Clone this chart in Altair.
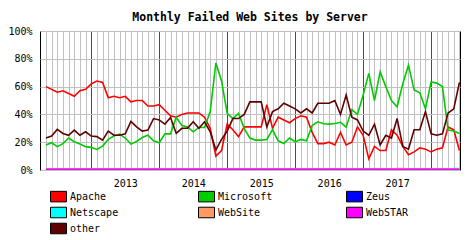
import altair as alt
import pandas as pd

title_text = "Monthly Failed Web Sites by Server"
series_names = ["Apache", "Microsoft", "Zeus", "Netscape", "WebSite", "WebSTAR", "other"]
series_colors = ["#ff0000", "#00cc00", "#0000ff", "#00ffff", "#ff9966", "#ff00ff", "#600000"]

# month index 0 = May 2012 ... 73 = Jun 2018
month_index = list(range(74))
january_index = [8, 20, 32, 44, 56, 68]
year_labels = ["2013", "2014", "2015", "2016", "2017"]
year_label_index = [14, 26, 38, 50, 62]
y_ticks = [0, 20, 40, 60, 80, 100]

apache = [60, 58, 56, 57, 55, 53, 57, 58, 62, 64,
          63, 52, 53, 52, 53, 49, 50, 50, 46, 46,
          47, 43, 39, 38, 40, 41, 41, 41, 38, 30,
          10, 14, 33, 29, 24, 31, 31, 31, 31, 47,
          30, 38, 36, 34, 37, 39, 38, 27, 19, 19,
          20, 18, 27, 18, 20, 31, 25, 8, 17, 14,
          14, 29, 25, 17, 11, 13, 16, 15, 13, 15,
          16, 31, 29, 14]
microsoft = [18, 19.6, 16.8, 19, 23, 20.3, 18.7, 16.8, 16.3, 14.8,
             17.2, 22, 24.4, 25.8, 23, 18.7, 20.5, 23.4, 25, 21,
             19.6, 26, 26, 38, 32, 31, 27.5, 30.6, 30.6, 42,
             77, 64, 40.7, 37, 40.7, 30, 23, 21.5, 21.5, 22,
             29, 21, 19, 23, 20.3, 22, 21, 32, 34.7, 33.3,
             33, 33.5, 34.3, 30.8, 43.5, 40, 54, 69.5, 50, 70.6,
             60, 50, 45.5, 62, 75.4, 57.5, 55.5, 44, 63.4, 62.5,
             60, 28.7, 28, 26.3]
zeus = [0.5, 0.5, 0.5, 0.5, 0.5, 0.5, 0.5, 0.5, 0.5, 0.5,
        0.5, 0.5, 0.5, 0.5, 0.5, 0.5, 0.5, 0.5, 0.5, 0.5,
        0.5, 0.5, 0.5, 0.5, 0.5, 0.5, 0.5, 0.5, 0.5, 0.5,
        0.5, 0.5, 0.5, 0.5, 0.5, 0.5, 0.5, 0.5, 0.5, 0.5,
        0.5, 0.5, 0.5, 0.5, 0.5, 0.5, 0.5, 0.5, 0.5, 0.5,
        0.5, 0.5, 0.5, 0.5, 0.5, 0.5, 0.5, 0.5, 0.5, 0.5,
        0.5, 0.5, 0.5, 0.5, 0.5, 0.5, 0.5, 0.5, 0.5, 0.5,
        0.5, 0.5, 0.5, 0.5]
netscape = [0.5, 0.5, 0.5, 0.5, 0.5, 0.5, 0.5, 0.5, 0.5, 0.5,
            0.5, 0.5, 0.5, 0.5, 0.5, 0.5, 0.5, 0.5, 0.5, 0.5,
            0.5, 0.5, 0.5, 0.5, 0.5, 0.5, 0.5, 0.5, 0.5, 0.5,
            0.5, 0.5, 0.5, 0.5, 0.5, 0.5, 0.5, 0.5, 0.5, 0.5,
            0.5, 0.5, 0.5, 0.5, 0.5, 0.5, 0.5, 0.5, 0.5, 0.5,
            0.5, 0.5, 0.5, 0.5, 0.5, 0.5, 0.5, 0.5, 0.5, 0.5,
            0.5, 0.5, 0.5, 0.5, 0.5, 0.5, 0.5, 0.5, 0.5, 0.5,
            0.5, 0.5, 1.0, 1.0]
website = [0.5, 0.5, 0.5, 0.5, 0.5, 0.5, 0.5, 0.5, 0.5, 0.5,
           0.5, 0.5, 0.5, 0.5, 0.5, 0.5, 0.5, 0.5, 0.5, 0.5,
           0.5, 0.5, 0.5, 0.5, 0.5, 0.5, 0.5, 0.5, 0.5, 0.5,
           0.5, 0.5, 0.5, 0.5, 0.5, 0.5, 0.5, 0.5, 0.5, 0.5,
           0.5, 0.5, 0.5, 0.5, 0.5, 0.5, 0.5, 0.5, 0.5, 0.5,
           0.5, 0.5, 0.5, 0.5, 0.5, 0.5, 0.5, 0.5, 0.5, 0.5,
           0.5, 0.5, 1.0, 1.0, 0.5, 0.5, 0.5, 0.5, 0.5, 0.5,
           0.5, 0.5, 0.5, 0.5]
webstar = [0.5, 0.5, 0.5, 0.5, 0.5, 0.5, 0.5, 0.5, 0.5, 0.5,
           0.5, 0.5, 0.5, 0.5, 0.5, 0.5, 0.5, 0.5, 0.5, 0.5,
           0.5, 0.5, 0.5, 0.5, 0.5, 0.5, 0.5, 0.5, 0.5, 0.5,
           0.5, 0.5, 0.5, 0.5, 0.5, 0.5, 0.5, 0.5, 0.5, 0.5,
           0.5, 0.5, 0.5, 0.5, 0.5, 0.5, 0.5, 0.5, 0.5, 0.5,
           0.5, 0.5, 0.5, 0.5, 0.5, 0.5, 0.5, 0.5, 0.5, 0.5,
           0.5, 0.5, 0.5, 0.5, 0.5, 0.5, 0.5, 0.5, 0.5, 0.5,
           0.5, 0.5, 0.5, 0.5]
other = [23, 24.4, 29.2, 26.3, 25, 28.7, 25, 27.5, 24.4, 24,
         21.5, 28, 25, 25, 26, 35, 31, 28, 28.7, 37,
         36, 33, 37.8, 26.3, 30, 30, 34.7, 30, 34.7, 27.5,
         14.4, 22, 28, 37, 37, 40, 49, 49, 49, 31,
         42, 44, 48, 46, 44, 41, 44, 41, 48, 48,
         48, 50, 40, 54, 38, 36, 28, 25, 33, 18,
         25, 23, 37, 17, 15, 29, 29, 42, 26, 25,
         26, 41, 44, 63]

series_values = {"Apache": apache, "Microsoft": microsoft, "Zeus": zeus,
                 "Netscape": netscape, "WebSite": website, "WebSTAR": webstar,
                 "other": other}

rows = []
for name in series_names:
    for m, v in zip(month_index, series_values[name]):
        rows.append({"m": m, "pct": v, "series": name})
df = pd.DataFrame(rows)

FONT = "DejaVu Sans Mono"

label_expr = "".join(
    f"datum.value == {p} ? '{t}' : " for p, t in zip(year_label_index, year_labels)
) + "''"
jan_test = "indexof([" + ",".join(str(j) for j in january_index) + "], datum.value) >= 0"

x_enc = alt.X(
    "m:Q",
    scale=alt.Scale(domain=[-1.05, 73.1], nice=False, zero=False),
    axis=alt.Axis(
        values=month_index, title=None, grid=True,
        gridColor={"condition": {"test": jan_test, "value": "#ff0000"}, "value": "#c0c0c0"},
        gridWidth=1, gridOpacity=1, ticks=False, domain=False,
        labelExpr=label_expr, labelOverlap=False, labelFlush=False,
        labelPadding=8, labelFont=FONT, labelFontSize=10, labelColor="black",
    ),
)
y_enc = alt.Y(
    "pct:Q",
    scale=alt.Scale(domain=[0, 100], nice=False, zero=True),
    axis=alt.Axis(
        values=y_ticks, title=None, grid=True, gridColor="#c0c0c0",
        gridWidth=1, gridOpacity=1, ticks=False, domain=False,
        labelExpr="datum.value + '%'", labelPadding=8,
        labelFont=FONT, labelFontSize=10, labelColor="black",
    ),
)

# line colours: same mapping, listed in reverse so this scale is not merged with the legend's
lines = alt.Chart(df).mark_line(strokeWidth=1.6).encode(
    x=x_enc,
    y=y_enc,
    color=alt.Color("series:N",
                    scale=alt.Scale(domain=series_names[::-1], range=series_colors[::-1]),
                    legend=None),
)

legend_layer = alt.Chart(df).mark_point(size=0, filled=True, stroke="black", strokeWidth=1).encode(
    x=x_enc,
    y=y_enc,
    fill=alt.Fill(
        "series:N",
        scale=alt.Scale(domain=series_names, range=series_colors),
        legend=alt.Legend(
            title=None, orient="none", legendX=10, legendY=157, columns=3,
            direction="horizontal",
            columnPadding=71, rowPadding=0, gridAlign="all", padding=0,
            symbolType="M-1,-0.66H1V0.66H-1Z", symbolSize=256,
            symbolStrokeColor="black", symbolStrokeWidth=1, symbolOpacity=1,
            labelFont=FONT, labelFontSize=10, labelColor="black", labelOffset=3,
        ),
    ),
)

chart = alt.layer(lines, legend_layer).properties(
    width=420,
    height=139,
    padding={"left": 40, "top": 31, "right": 8, "bottom": 70},
    autosize=alt.AutoSizeParams(type="none"),
    background="white",
    title=alt.TitleParams(
        text=title_text, font=FONT, fontSize=11.5, fontWeight="bold",
        anchor="middle", offset=3, color="black", frame="group",
    ),
).configure_view(stroke="black", strokeWidth=1)

chart.save("out.html", embed_options={"renderer": "svg", "actions": False})
